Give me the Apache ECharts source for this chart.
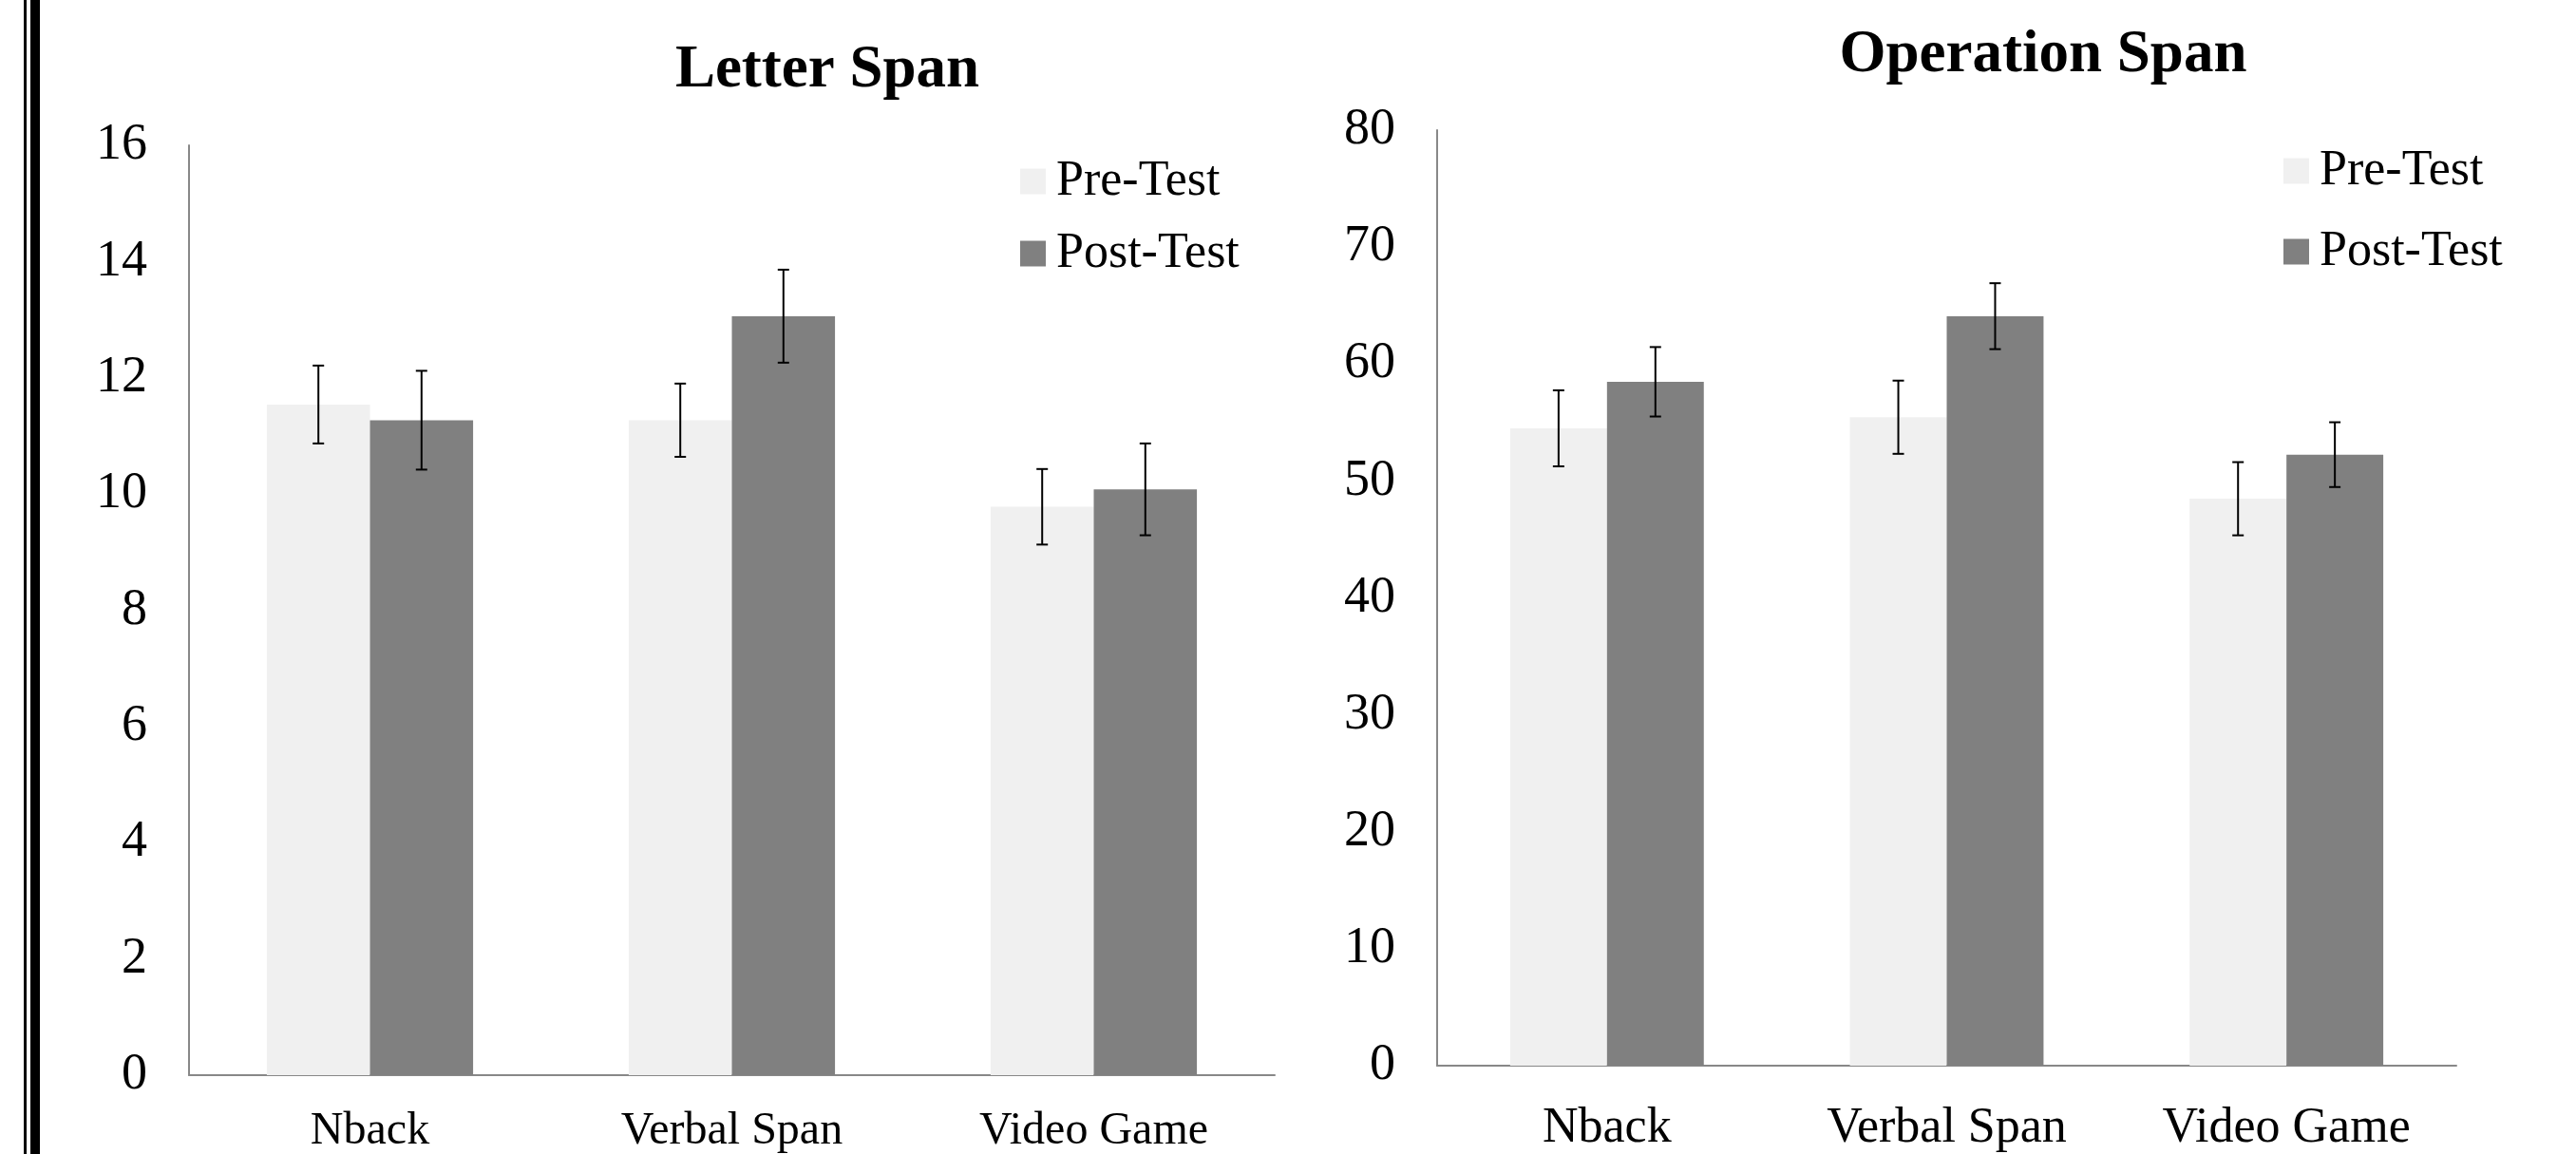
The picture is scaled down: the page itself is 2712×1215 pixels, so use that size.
<!DOCTYPE html>
<html>
<head>
<meta charset="utf-8">
<script src="https://cdn.jsdelivr.net/npm/echarts@6/dist/echarts.min.js"></script>
<title>Letter Span / Operation Span</title>
<style>
  html, body { margin: 0; padding: 0; background: #fff; }
  #main { width: 2712px; height: 1215px; }
</style>
</head>
<body>
<div id="main"></div>
<script>
// categories and values
var groups = ['Nback', 'Verbal Span', 'Video Game'];
var seriesNames = ['Pre-Test', 'Post-Test'];

var letterPre = [11.54, 11.27, 9.78];
var letterPost = [11.27, 13.06, 10.08];
var letterPreErr = [0.67, 0.63, 0.65];
var letterPostErr = [0.85, 0.80, 0.79];

var opPre = [54.5, 55.45, 48.48];
var opPost = [58.48, 64.09, 52.25];
var opPreErr = [3.25, 3.13, 3.13];
var opPostErr = [2.97, 2.82, 2.77];

var letterTicks = { min: 0, max: 16, interval: 2 };
var opTicks = { min: 0, max: 80, interval: 10 };

var PRE_COLOR = '#f0f0f0', POST_COLOR = '#808080', AXIS_COLOR = '#888888';
var FONT = 'Liberation Serif, serif';
var CAT_GAP = 0.43;

function errData(vals, errs) {
  var out = [];
  for (var i = 0; i < vals.length; i++) out.push([i, vals[i], errs[i]]);
  return out;
}

// draws the whisker for one bar of a pair (side -1 = left bar, +1 = right bar)
function errRenderer(side) {
  return function (params, api) {
    var band = api.size([1, 0])[0];
    var barW = band * (1 - CAT_GAP) / 2;
    var c = api.value(0), v = api.value(1), e = api.value(2);
    var top = api.coord([c, v + e]);
    var bot = api.coord([c, v - e]);
    var x = top[0] + side * barW / 2;
    var cap = 6;
    var st = { stroke: '#000', lineWidth: 2 };
    return {
      type: 'group',
      children: [
        { type: 'line', shape: { x1: x, y1: top[1], x2: x, y2: bot[1] }, style: st },
        { type: 'line', shape: { x1: x - cap, y1: top[1], x2: x + cap, y2: top[1] }, style: st },
        { type: 'line', shape: { x1: x - cap, y1: bot[1], x2: x + cap, y2: bot[1] }, style: st }
      ]
    };
  };
}

function xAx(idx, size, margin) {
  return {
    type: 'category', gridIndex: idx, data: groups,
    axisLine: { lineStyle: { color: AXIS_COLOR, width: 2 } },
    axisTick: { show: false },
    axisLabel: { color: '#000', fontFamily: FONT, fontSize: size, margin: margin }
  };
}

function yAx(idx, t) {
  return {
    type: 'value', gridIndex: idx, min: t.min, max: t.max, interval: t.interval,
    splitLine: { show: false },
    axisLine: { show: true, lineStyle: { color: AXIS_COLOR, width: 2 } },
    axisTick: { show: false },
    axisLabel: { color: '#000', fontFamily: FONT, fontSize: 54, margin: 44 }
  };
}

function bar(name, idx, data, color) {
  return {
    name: name, type: 'bar', xAxisIndex: idx, yAxisIndex: idx, data: data,
    barGap: '0%', barCategoryGap: (CAT_GAP * 100) + '%',
    itemStyle: { color: color }
  };
}

function errSeries(idx, vals, errs, side) {
  return {
    type: 'custom', xAxisIndex: idx, yAxisIndex: idx,
    data: errData(vals, errs), encode: { x: 0, y: 1 },
    renderItem: errRenderer(side), z: 5, silent: true
  };
}

var chart = echarts.init(document.getElementById('main'));
chart.setOption({
  animation: false,
  backgroundColor: '#fff',
  textStyle: { fontFamily: FONT },
  title: [
    { text: 'Letter Span', left: 866, top: 38, textAlign: 'center',
      textStyle: { fontFamily: FONT, fontWeight: 'bold', fontSize: 63, color: '#000' } },
    { text: 'Operation Span', left: 2146, top: 22, textAlign: 'center',
      textStyle: { fontFamily: FONT, fontWeight: 'bold', fontSize: 63, color: '#000' } }
  ],
  legend: [
    { data: seriesNames, orient: 'vertical', left: 1074, top: 165, icon: 'rect', padding: 0,
      itemWidth: 27, itemHeight: 27, itemGap: 24, selectedMode: false,
      textStyle: { fontFamily: FONT, fontSize: 52, color: '#000', padding: [0, 0, 0, 6] } },
    { data: seriesNames, orient: 'vertical', left: 2404, top: 154, icon: 'rect', padding: 0,
      itemWidth: 27, itemHeight: 27, itemGap: 33, selectedMode: false,
      textStyle: { fontFamily: FONT, fontSize: 52, color: '#000', padding: [0, 0, 0, 6] } }
  ],
  grid: [
    { left: 199, right: 1370, top: 153, bottom: 77, containLabel: false },
    { left: 1513, right: 126, top: 137, bottom: 93, containLabel: false }
  ],
  xAxis: [xAx(0, 48, 35), xAx(1, 52, 40)],
  yAxis: [yAx(0, letterTicks), yAx(1, opTicks)],
  graphic: [
    { type: 'rect', shape: { x: 25, y: 0, width: 3, height: 1215 }, style: { fill: '#000' } },
    { type: 'rect', shape: { x: 32, y: 0, width: 10, height: 1215 }, style: { fill: '#000' } }
  ],
  series: [
    bar('Pre-Test', 0, letterPre, PRE_COLOR),
    bar('Post-Test', 0, letterPost, POST_COLOR),
    bar('Pre-Test', 1, opPre, PRE_COLOR),
    bar('Post-Test', 1, opPost, POST_COLOR),
    errSeries(0, letterPre, letterPreErr, -1),
    errSeries(0, letterPost, letterPostErr, 1),
    errSeries(1, opPre, opPreErr, -1),
    errSeries(1, opPost, opPostErr, 1)
  ]
});
</script>
</body>
</html>
